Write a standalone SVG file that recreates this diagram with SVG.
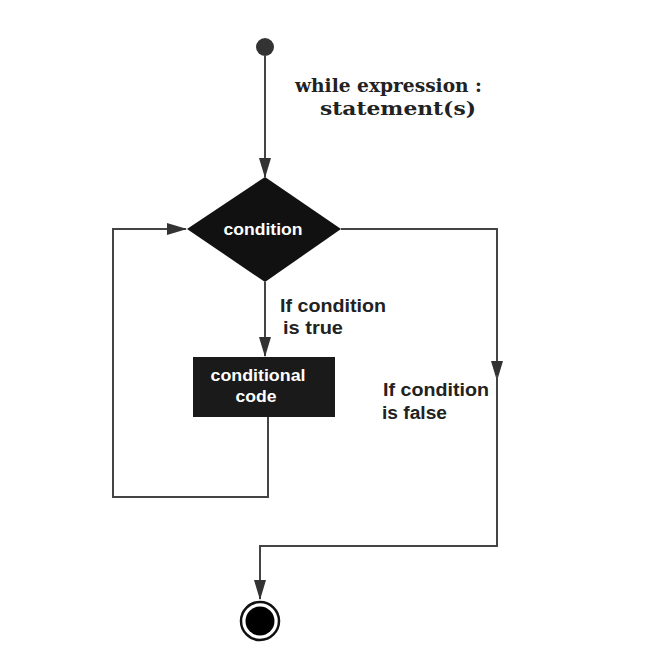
<svg xmlns="http://www.w3.org/2000/svg" width="646" height="659" viewBox="0 0 646 659">
<style>
.ln{fill:none;stroke:#444;stroke-width:2}
.lb{font-family:"Liberation Sans",Arial,sans-serif;font-weight:bold;font-size:18px;fill:#222}
.wt{font-family:"Liberation Sans",Arial,sans-serif;font-weight:bold;font-size:17px;fill:#fff}
.sr{font-family:"DejaVu Serif","Liberation Serif",serif;font-weight:bold;font-size:18px;fill:#222}
</style>
<defs>
<marker id="ah" markerWidth="20" markerHeight="12" refX="19" refY="6" orient="auto" markerUnits="userSpaceOnUse">
<path d="M0,0 L20,6 L0,12 Z" fill="#333"/>
</marker>
</defs>
<rect width="646" height="659" fill="#fff"/>
<g id="connectors">
<path class="ln" d="M265,56 V177" marker-end="url(#ah)"/>
<path class="ln" d="M265,282 V356" marker-end="url(#ah)"/>
<path class="ln" d="M268,417 V497 H113 V229 H186" marker-end="url(#ah)"/>
<path class="ln" d="M341,229 H497 V380" marker-end="url(#ah)"/>
<path class="ln" d="M497,375 V546 H260 V599" marker-end="url(#ah)"/>
</g>
<g id="start"><circle cx="265" cy="47" r="9" fill="#333"/></g>
<g id="code-label">
<text class="sr" x="295" y="92" textLength="187" lengthAdjust="spacingAndGlyphs">while expression :</text>
<text class="sr" x="320" y="115" textLength="156" lengthAdjust="spacingAndGlyphs">statement(s)</text>
</g>
<g id="condition">
<polygon points="265,177 341,229 265,282 187,229" fill="#111"/>
<text class="wt" x="263" y="235" text-anchor="middle" textLength="79" lengthAdjust="spacingAndGlyphs">condition</text>
</g>
<g id="label-true">
<text class="lb" x="280" y="312" textLength="106" lengthAdjust="spacingAndGlyphs">If condition</text>
<text class="lb" x="283" y="334" textLength="60" lengthAdjust="spacingAndGlyphs">is true</text>
</g>
<g id="conditional-code">
<rect x="193" y="357" width="142" height="60" fill="#1a1a1a"/>
<text class="wt" x="258" y="381" text-anchor="middle" textLength="95" lengthAdjust="spacingAndGlyphs">conditional</text>
<text class="wt" x="256" y="402" text-anchor="middle" textLength="41" lengthAdjust="spacingAndGlyphs">code</text>
</g>
<g id="label-false">
<text class="lb" x="383" y="396" textLength="106" lengthAdjust="spacingAndGlyphs">If condition</text>
<text class="lb" x="382" y="419" textLength="65" lengthAdjust="spacingAndGlyphs">is false</text>
</g>
<g id="end">
<circle cx="260" cy="621" r="19" fill="#fff" stroke="#111" stroke-width="2.5"/>
<circle cx="260" cy="621" r="14.5" fill="#000"/>
</g>
</svg>
